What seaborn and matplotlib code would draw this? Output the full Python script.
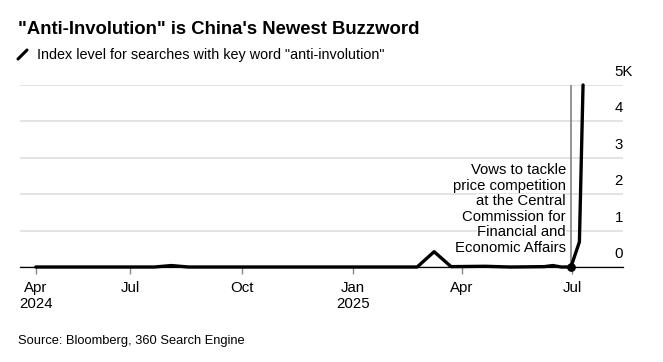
import pandas as pd
import seaborn as sns
import matplotlib.pyplot as plt
from matplotlib.lines import Line2D
from matplotlib import transforms

# Data: search index level, key points
dates = ['2024-04-14', '2024-07-21', '2024-08-04', '2024-08-18', '2024-12-29',
         '2025-02-23', '2025-03-09', '2025-03-23', '2025-04-20', '2025-05-11',
         '2025-06-08', '2025-06-15', '2025-06-22', '2025-06-30', '2025-07-07',
         '2025-07-10']
values = [0, 0, 40, 0, 0,
          0, 420, 10, 20, 0,
          10, 40, 0, 0, 690,
          5000]

event_date = '2025-06-30'
event_lines = ['Vows to tackle', 'price competition', 'at the Central', 'Commission for',
               'Financial and', 'Economic Affairs']

xtick_dates = ['2024-04-14', '2024-07-01', '2024-10-01', '2025-01-01', '2025-04-01', '2025-07-01']
xtick_labels = ['Apr\n2024', 'Jul', 'Oct', 'Jan\n2025', 'Apr', 'Jul']
ytick_vals = [0, 1000, 2000, 3000, 4000, 5000]
ytick_labels = ['0', '1', '2', '3', '4', '5K']

df = pd.DataFrame({'date': pd.to_datetime(dates), 'index': values})

sns.set_style('white')
plt.rcParams['font.family'] = ['Liberation Sans', 'DejaVu Sans']
plt.rcParams['text.color'] = 'black'
plt.rcParams['xtick.color'] = 'black'
plt.rcParams['ytick.color'] = 'black'

fig = plt.figure(figsize=(6.63, 3.62), dpi=100)
ax = fig.add_axes([20 / 663, 1 - 267 / 362, (623 - 20) / 663, (267 - 85) / 362])

# Event marker
ev = pd.Timestamp(event_date)
ax.axvline(ev, ymin=0, ymax=1, color='#8a8a8a', lw=1.3, zorder=2)

sns.lineplot(data=df, x='date', y='index', ax=ax, color='black', lw=2.4, zorder=4,
             clip_on=False)
ax.scatter([ev], [0], s=28, color='black', zorder=5, clip_on=False)

# annotation, one line at a time so each has its own white backing
for i, line in enumerate(reversed(event_lines)):
    ax.annotate(line, xy=(ev, 0), xytext=(-5, 15 + i * 15.6), textcoords='offset pixels',
                ha='right', va='baseline', fontsize=10.7, zorder=3,
                bbox=dict(facecolor='white', edgecolor='none', pad=0.3))

ax.set_xlim(pd.Timestamp('2024-04-01'), pd.Timestamp('2025-08-12'))
ax.set_ylim(0, 5000)

ax.set_xticks(pd.to_datetime(xtick_dates))
ax.set_xticklabels(xtick_labels, fontsize=10.8, linespacing=1.15)
ax.tick_params(axis='x', length=5, width=1, color='#888888', pad=5, bottom=True)

ax.yaxis.tick_right()
ax.set_yticks(ytick_vals)
ax.set_yticklabels(ytick_labels, fontsize=10.8)
ax.tick_params(axis='y', length=0, pad=-6)
offset = transforms.ScaledTranslation(0, 6 / 100, fig.dpi_scale_trans)
for lab in ax.get_yticklabels():
    lab.set_verticalalignment('bottom')
    lab.set_horizontalalignment('left')
    lab.set_transform(lab.get_transform() + offset)

ax.grid(axis='y', color='#e3e3e3', lw=1.4)
ax.grid(axis='x', visible=False)
for s in ['top', 'left', 'right']:
    ax.spines[s].set_visible(False)
ax.spines['bottom'].set_color('black')
ax.spines['bottom'].set_linewidth(0.9)
ax.set_xlabel('')
ax.set_ylabel('')

fig.text(18 / 663, 1 - 29 / 362, '"Anti-Involution" is China\'s Newest Buzzword',
         fontsize=13.3, fontweight='bold', va='center', ha='left')
fig.add_artist(Line2D([18 / 663, 27 / 663], [1 - 59 / 362, 1 - 50 / 362],
                      color='black', lw=2.2, transform=fig.transFigure))
fig.text(37 / 663, 1 - 54.5 / 362, 'Index level for searches with key word "anti-involution"',
         fontsize=10.4, va='center', ha='left')
fig.text(18 / 663, 1 - 341 / 362, 'Source: Bloomberg, 360 Search Engine',
         fontsize=9.3, va='center', ha='left')

fig.savefig('out.png', dpi=100)
